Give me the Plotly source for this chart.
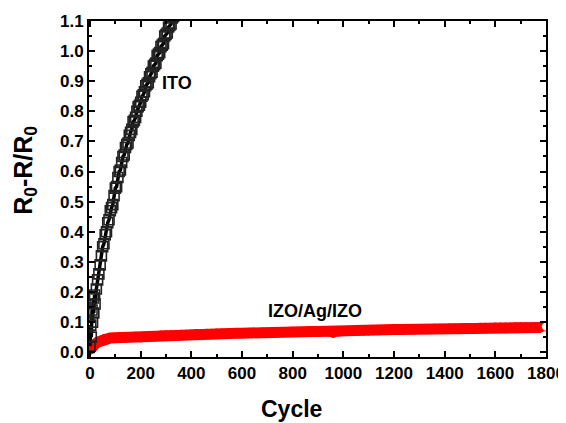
import plotly.graph_objects as go

# ITO: R0-R/R0 vs cycle
ito_cycle = [0, 3, 5, 8, 10, 13, 15, 18, 20, 25, 30, 35, 40, 45, 50, 55, 60, 65, 70, 75,
             80, 85, 90, 95, 100, 105, 110, 115, 120, 125, 130, 135, 140, 145, 150, 155,
             160, 165, 170, 175, 180, 185, 190, 195, 200, 205, 210, 215, 220, 225, 230,
             235, 240, 245, 250, 255, 260, 265, 270, 275, 280, 285, 290, 295, 300, 305,
             310, 315, 320, 325, 330, 340, 350, 360]
ito_value = [0.02, 0.09, 0.05, 0.14, 0.10, 0.18, 0.13, 0.19, 0.16, 0.21, 0.24, 0.26, 0.29,
             0.32, 0.35, 0.36, 0.39, 0.40, 0.43, 0.44, 0.47, 0.48, 0.49, 0.52, 0.545, 0.55,
             0.58, 0.60, 0.605, 0.63, 0.65, 0.655, 0.68, 0.69, 0.695, 0.72, 0.73, 0.74,
             0.765, 0.77, 0.78, 0.80, 0.815, 0.82, 0.83, 0.85, 0.855, 0.865, 0.885, 0.89,
             0.895, 0.915, 0.925, 0.93, 0.95, 0.955, 0.96, 0.985, 0.99, 0.995, 1.015, 1.02,
             1.025, 1.05, 1.055, 1.06, 1.08, 1.085, 1.09, 1.11, 1.115, 1.13, 1.15, 1.17]

# IZO/Ag/IZO: R0-R/R0 vs cycle
izo_cycle = [0, 5, 10, 20, 30, 40, 50, 60, 80, 100, 120, 140, 160, 180, 200, 220, 240,
             260, 280, 300, 320, 340, 360, 380, 400, 420, 440, 460, 480, 500, 520, 540,
             560, 580, 600, 620, 640, 660, 680, 700, 720, 740, 760, 780, 800, 820, 840,
             860, 880, 900, 920, 940, 960, 980, 1000, 1020, 1040, 1060, 1080, 1100, 1120,
             1140, 1160, 1180, 1200, 1220, 1240, 1260, 1280, 1300, 1320, 1340, 1360, 1380,
             1400, 1420, 1440, 1460, 1480, 1500, 1520, 1540, 1560, 1580, 1600, 1620, 1640,
             1660, 1680, 1700, 1720, 1740, 1760, 1780]
izo_value = [0.008, 0.016, 0.020, 0.027, 0.033, 0.037, 0.041, 0.045, 0.047, 0.048, 0.049,
             0.048, 0.050, 0.051, 0.049, 0.052, 0.053, 0.054, 0.055, 0.056, 0.056, 0.057,
             0.058, 0.058, 0.059, 0.060, 0.060, 0.061, 0.061, 0.062, 0.062, 0.062, 0.063,
             0.063, 0.063, 0.064, 0.063, 0.064, 0.065, 0.065, 0.066, 0.066, 0.067, 0.067,
             0.068, 0.068, 0.068, 0.069, 0.069, 0.069, 0.070, 0.068, 0.064, 0.068, 0.070,
             0.071, 0.071, 0.072, 0.072, 0.072, 0.073, 0.073, 0.074, 0.074, 0.075, 0.075,
             0.075, 0.076, 0.076, 0.077, 0.077, 0.077, 0.078, 0.078, 0.078, 0.079, 0.079,
             0.079, 0.080, 0.080, 0.080, 0.081, 0.081, 0.081, 0.082, 0.082, 0.082, 0.082,
             0.083, 0.083, 0.083, 0.082, 0.082, 0.082]
izo_last_cycle = [1800]
izo_last_value = [0.085]

x_ticks = [0, 200, 400, 600, 800, 1000, 1200, 1400, 1600, 1800]
y_ticks = [0.0, 0.1, 0.2, 0.3, 0.4, 0.5, 0.6, 0.7, 0.8, 0.9, 1.0, 1.1]

FONT = "Arial, Liberation Sans, sans-serif"

fig = go.Figure()
fig.add_trace(go.Scatter(
    x=izo_cycle, y=izo_value, mode="lines+markers",
    line=dict(color="#ff0000", width=11),
    marker=dict(symbol="circle", size=10, color="#ff0000"),
    showlegend=False))
fig.add_trace(go.Scatter(
    x=izo_last_cycle, y=izo_last_value, mode="markers",
    marker=dict(symbol="circle", size=9, color="white",
                line=dict(color="#ff0000", width=1)),
    showlegend=False))
fig.add_trace(go.Scatter(
    x=ito_cycle, y=ito_value, mode="lines+markers",
    line=dict(color="black", width=3.5),
    marker=dict(symbol="square-open", size=10, color="#222222",
                line=dict(width=1.6)),
    showlegend=False))

axis_common = dict(
    showline=True, linecolor="black", linewidth=2, mirror="ticks",
    ticks="inside", ticklen=6, tickwidth=1.5, tickcolor="black",
    showgrid=False, zeroline=False, automargin=False,
    tickfont=dict(family=FONT, size=17, color="black", weight="bold"),
)

fig.update_xaxes(
    range=[-4, 1800], tickvals=x_ticks, ticktext=[f"<b>{v}</b>" for v in x_ticks],
    minor=dict(ticks="inside", ticklen=3, tickwidth=1.5, tickcolor="black", dtick=100),
    **axis_common)
fig.update_yaxes(
    range=[-0.016, 1.1], tickvals=y_ticks, ticktext=[f"<b>{v:.1f}</b>" for v in y_ticks],
    minor=dict(ticks="inside", ticklen=3, tickwidth=1.5, tickcolor="black", dtick=0.05),
    **axis_common)

fig.add_annotation(xref="paper", yref="paper", x=0.444, y=0, yshift=-52,
                   xanchor="center", yanchor="middle", showarrow=False,
                   text="<b>Cycle</b>", font=dict(family=FONT, size=23, color="black"))
fig.add_annotation(xref="paper", yref="paper", x=0, y=0.554, xshift=-64,
                   xanchor="center", yanchor="middle", showarrow=False, textangle=-90,
                   text="<b>R<sub>0</sub>-R/R<sub>0</sub></b>",
                   font=dict(family=FONT, size=25, color="black"))

fig.add_annotation(x=343, y=0.895, text="<b>ITO</b>", showarrow=False,
                   font=dict(family=FONT, size=18, color="black"))
fig.add_annotation(x=888, y=0.138, text="<b>IZO/Ag/IZO</b>", showarrow=False,
                   font=dict(family=FONT, size=18, color="black"))

# the page places the figure 8px in from the top-left corner, so the figure is
# sized to fill the rest of the 566x423 window
fig.update_layout(
    width=558, height=415,
    margin=dict(l=81, r=20, t=13, b=66),
    paper_bgcolor="white", plot_bgcolor="white",
)

fig.write_html("out.html")
